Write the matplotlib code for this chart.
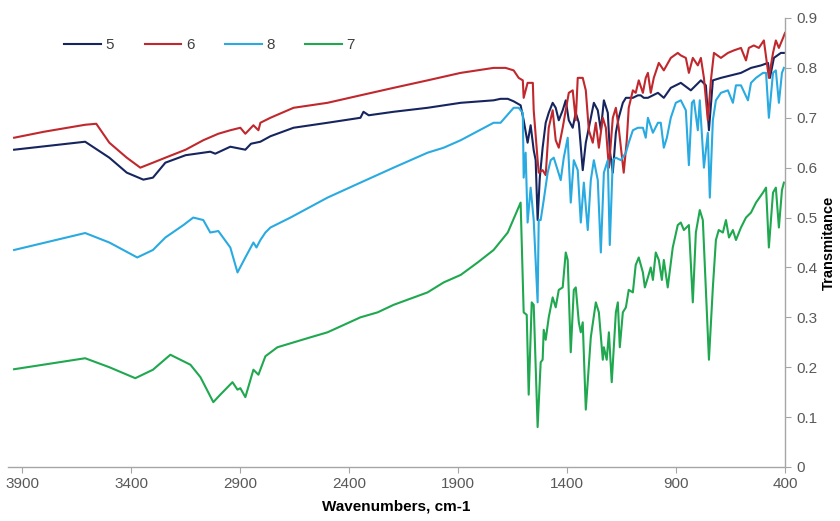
import matplotlib
matplotlib.use("Agg")
import matplotlib.pyplot as plt

plt.rcParams['font.family'] = ['Liberation Sans Narrow', 'Liberation Sans', 'DejaVu Sans']

# spectrum 5
w5 = [3937, 3611, 3500, 3420, 3344, 3300, 3243, 3150, 3037, 3014, 2945, 2876, 2850,
      2807, 2761, 2655, 2499, 2348, 2334, 2310, 2196, 2040, 1888, 1737, 1705, 1672,
      1645, 1613, 1599, 1581, 1567, 1553, 1544, 1535, 1525, 1512, 1498, 1484, 1466,
      1452, 1438, 1420, 1406, 1392, 1374, 1360, 1346, 1328, 1314, 1300, 1277, 1259,
      1245, 1231, 1213, 1204, 1190, 1176, 1163, 1144, 1130, 1098, 1075, 1062, 1048,
      1029, 983, 956, 924, 878, 832, 809, 786, 763, 749, 731, 694, 648, 602, 556,
      510, 478, 469, 451, 419, 405]
t5 = [0.636, 0.652, 0.620, 0.590, 0.576, 0.580, 0.610, 0.625, 0.632, 0.628, 0.642,
      0.636, 0.648, 0.652, 0.663, 0.680, 0.690, 0.700, 0.712, 0.705, 0.712, 0.720,
      0.730, 0.735, 0.738, 0.738, 0.733, 0.725, 0.695, 0.650, 0.685, 0.635, 0.615,
      0.495, 0.580, 0.640, 0.690, 0.710, 0.730, 0.720, 0.695, 0.715, 0.735, 0.695,
      0.680, 0.710, 0.690, 0.595, 0.650, 0.680, 0.730, 0.715, 0.675, 0.735, 0.710,
      0.635, 0.590, 0.670, 0.700, 0.730, 0.740, 0.740, 0.745, 0.745, 0.740, 0.740,
      0.750, 0.740, 0.760, 0.770, 0.755, 0.765, 0.775, 0.765, 0.675, 0.775, 0.780,
      0.785, 0.790, 0.800, 0.805, 0.810, 0.780, 0.820, 0.830, 0.830]

# spectrum 6
w6 = [3937, 3800, 3611, 3560, 3500, 3420, 3358, 3300, 3243, 3150, 3069, 3000, 2945,
      2899, 2876, 2839, 2816, 2807, 2761, 2655, 2499, 2348, 2196, 2040, 1888, 1737,
      1682, 1645, 1622, 1603, 1599, 1581, 1557, 1553, 1535, 1530, 1512, 1498, 1484,
      1466, 1452, 1438, 1420, 1406, 1392, 1374, 1360, 1351, 1328, 1314, 1300, 1282,
      1268, 1254, 1236, 1222, 1208, 1190, 1176, 1163, 1140, 1126, 1117, 1098, 1085,
      1071, 1052, 1039, 1029, 1016, 1002, 979, 956, 924, 892, 878, 855, 841, 823,
      800, 786, 772, 754, 740, 726, 694, 662, 635, 602, 579, 566, 543, 520, 497,
      474, 455, 442, 428, 409, 400]
t6 = [0.660, 0.672, 0.686, 0.688, 0.650, 0.620, 0.600, 0.610, 0.620, 0.636, 0.655,
      0.668, 0.675, 0.680, 0.668, 0.685, 0.675, 0.690, 0.700, 0.720, 0.730, 0.745,
      0.760, 0.775, 0.790, 0.800, 0.800, 0.795, 0.780, 0.775, 0.740, 0.770, 0.770,
      0.715, 0.615, 0.590, 0.595, 0.585, 0.680, 0.715, 0.655, 0.640, 0.680, 0.715,
      0.750, 0.755, 0.695, 0.780, 0.780, 0.755, 0.675, 0.650, 0.690, 0.640, 0.700,
      0.680, 0.600, 0.700, 0.720, 0.680, 0.590, 0.655, 0.720, 0.755, 0.750, 0.775,
      0.750, 0.780, 0.790, 0.750, 0.780, 0.810, 0.795, 0.820, 0.830, 0.825, 0.820,
      0.790, 0.820, 0.805, 0.820, 0.780, 0.695, 0.775, 0.830, 0.820, 0.830, 0.835,
      0.840, 0.815, 0.840, 0.845, 0.840, 0.855, 0.780, 0.830, 0.855, 0.840, 0.860,
      0.870]

# spectrum 8
w8 = [3937, 3611, 3500, 3372, 3300, 3243, 3160, 3115, 3069, 3037, 3000, 2945, 2912,
      2876, 2839, 2825, 2807, 2784, 2761, 2669, 2499, 2348, 2196, 2040, 1966, 1888,
      1737, 1705, 1645, 1622, 1603, 1599, 1590, 1581, 1567, 1553, 1535, 1530, 1521,
      1507, 1489, 1475, 1461, 1443, 1429, 1415, 1397, 1383, 1369, 1351, 1337, 1323,
      1305, 1291, 1277, 1259, 1245, 1231, 1213, 1204, 1190, 1176, 1153, 1130, 1117,
      1098, 1075, 1052, 1039, 1029, 1006, 983, 970, 956, 942, 924, 901, 878, 855,
      841, 827, 818, 800, 791, 772, 754, 745, 731, 717, 694, 662, 639, 625, 602,
      570, 556, 533, 501, 487, 474, 455, 442, 428, 414, 405]
t8 = [0.435, 0.469, 0.450, 0.420, 0.435, 0.460, 0.485, 0.500, 0.495, 0.470, 0.473,
      0.440, 0.390, 0.420, 0.450, 0.440, 0.455, 0.470, 0.480, 0.500, 0.540, 0.570,
      0.600, 0.630, 0.640, 0.655, 0.690, 0.690, 0.720, 0.720, 0.710, 0.580, 0.630,
      0.490, 0.560, 0.495, 0.330, 0.495, 0.495, 0.535, 0.590, 0.615, 0.620, 0.595,
      0.575, 0.620, 0.660, 0.530, 0.615, 0.595, 0.490, 0.570, 0.475, 0.575, 0.615,
      0.575, 0.430, 0.590, 0.615, 0.445, 0.615, 0.620, 0.615, 0.630, 0.650, 0.675,
      0.680, 0.680, 0.660, 0.700, 0.670, 0.690, 0.690, 0.640, 0.660, 0.700, 0.730,
      0.735, 0.715, 0.605, 0.730, 0.735, 0.675, 0.735, 0.600, 0.670, 0.540, 0.695,
      0.735, 0.750, 0.755, 0.730, 0.765, 0.765, 0.735, 0.770, 0.780, 0.790, 0.790,
      0.700, 0.790, 0.795, 0.730, 0.790, 0.800]

# spectrum 7
w7 = [3937, 3611, 3500, 3381, 3300, 3220, 3128, 3082, 3023, 2991, 2935, 2912, 2899,
      2876, 2839, 2816, 2784, 2729, 2577, 2499, 2348, 2269, 2196, 2040, 1966, 1888,
      1810, 1737, 1672, 1613, 1599, 1585, 1576, 1562, 1553, 1535, 1521, 1512, 1507,
      1498, 1484, 1466, 1452, 1438, 1420, 1406, 1397, 1383, 1369, 1360, 1346, 1337,
      1328, 1314, 1291, 1268, 1254, 1236, 1231, 1218, 1208, 1195, 1176, 1167, 1158,
      1144, 1130, 1117, 1098, 1085, 1071, 1052, 1043, 1029, 1016, 1006, 993, 979,
      965, 956, 938, 915, 892, 878, 864, 841, 823, 809, 791, 777, 749, 731, 717,
      704, 685, 671, 657, 639, 625, 602, 579, 556, 533, 501, 487, 474, 455, 442,
      428, 414, 405]
t7 = [0.196, 0.218, 0.200, 0.178, 0.195, 0.225, 0.205, 0.180, 0.130, 0.145, 0.170,
      0.155, 0.158, 0.140, 0.195, 0.185, 0.222, 0.240, 0.260, 0.270, 0.300, 0.310,
      0.325, 0.350, 0.370, 0.385, 0.410, 0.435, 0.470, 0.530, 0.310, 0.305, 0.145,
      0.330, 0.325, 0.080, 0.210, 0.215, 0.275, 0.255, 0.300, 0.340, 0.320, 0.355,
      0.360, 0.430, 0.415, 0.230, 0.355, 0.360, 0.290, 0.270, 0.290, 0.115, 0.260,
      0.330, 0.310, 0.215, 0.240, 0.215, 0.270, 0.170, 0.310, 0.330, 0.240, 0.310,
      0.320, 0.355, 0.350, 0.405, 0.420, 0.390, 0.360, 0.380, 0.400, 0.375, 0.430,
      0.415, 0.375, 0.415, 0.360, 0.440, 0.485, 0.490, 0.475, 0.485, 0.330, 0.470,
      0.515, 0.495, 0.215, 0.360, 0.455, 0.475, 0.470, 0.495, 0.460, 0.475, 0.455,
      0.480, 0.500, 0.510, 0.530, 0.550, 0.560, 0.440, 0.550, 0.560, 0.480, 0.555,
      0.570]

labels = ['5', '6', '8', '7']
colors = ['#17255f', '#c0282d', '#29aae1', '#1fa84f']
xticks = [3900, 3400, 2900, 2400, 1900, 1400, 900, 400]
yticks = [0, 0.1, 0.2, 0.3, 0.4, 0.5, 0.6, 0.7, 0.8, 0.9]

fig = plt.figure(figsize=(8.4, 5.21), dpi=100)
ax = fig.add_axes([8 / 840, 1 - 467 / 521, 777 / 840, 449 / 521])

for w, t, lab, c in zip([w5, w6, w8, w7], [t5, t6, t8, t7], labels, colors):
    ax.plot(w, t, color=c, lw=1.5, label=lab)

ax.set_xlim(3965, 400)
ax.set_ylim(0, 0.9)
ax.set_xticks(xticks)
ax.set_xticklabels([str(v) for v in xticks])
ax.set_yticks(yticks)
ax.set_yticklabels(['0'] + ['%.1f' % v for v in yticks[1:]])

ax.yaxis.tick_right()
ax.yaxis.set_label_position('right')
for s in ['top', 'left']:
    ax.spines[s].set_visible(False)
for s in ['bottom', 'right']:
    ax.spines[s].set_color('#a6a6a6')
    ax.spines[s].set_linewidth(1.0)
ax.tick_params(axis='both', colors='#a6a6a6', length=4, direction='out',
               labelsize=11, labelcolor='#595959')
ax.tick_params(axis='y', pad=4)

ax.set_xlabel('Wavenumbers, cm-1', fontsize=11, fontweight='bold', labelpad=6)
ax.set_ylabel('Transmitance', fontsize=10.5, fontweight='bold', labelpad=3)

leg = ax.legend(loc='upper left', bbox_to_anchor=(0.055, 0.985), ncol=4, frameon=False,
                handlelength=2.4, handletextpad=0.3, columnspacing=2.0, fontsize=11)
for txt in leg.get_texts():
    txt.set_color('#404040')

fig.savefig('out.png', dpi=100)
